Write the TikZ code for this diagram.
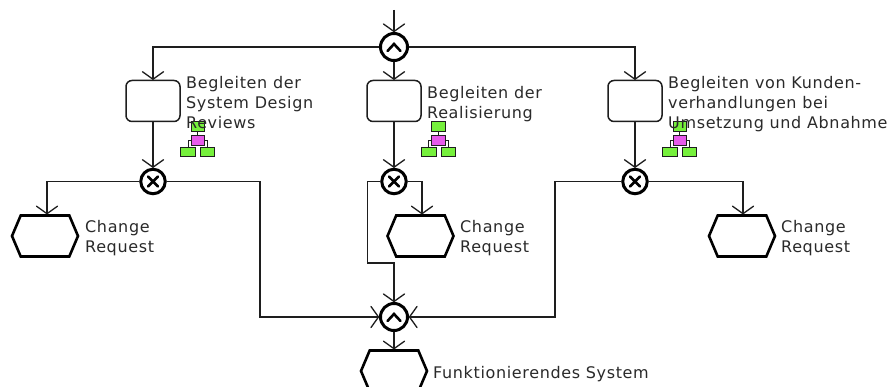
\documentclass[tikz,border=0pt]{standalone}
\usepackage{fontspec}
\setmainfont[LetterSpace=4]{DejaVu Sans}
\usetikzlibrary{arrows.meta,shapes.symbols,positioning}
\definecolor{ink}{HTML}{1E1E1E}
\definecolor{lbl}{HTML}{2A2A2A}
\definecolor{grn}{HTML}{76F03C}
\definecolor{mag}{HTML}{E65AEB}
\pgfdeclarearrow{
  name=VBarb,
  setup code={\pgfarrowssettipend{0pt}\pgfarrowssetlineend{-0.5pt}\pgfarrowssetbackend{-8pt}\pgfarrowssetvisualbackend{-0.5pt}},
  drawing code={\pgfsetdash{}{0pt}\pgfsetlinewidth{1.3pt}\pgfsetroundcap\pgfsetmiterjoin
    \pgfpathmoveto{\pgfqpoint{-8pt}{10.5pt}}\pgfpathlineto{\pgfqpoint{-0.5pt}{0pt}}\pgfpathlineto{\pgfqpoint{-8pt}{-10.5pt}}\pgfusepathqstroke}
}
\tikzset{
  flow/.style={draw=ink,line width=1.4pt,-{VBarb}},
  taskbox/.style={draw=ink,line width=1.5pt,rounded corners=6pt,minimum width=54pt,minimum height=41pt,inner sep=0pt,fill=white},
  evt/.style={draw=black,line width=2.6pt,signal,signal to=east and west,signal pointer angle=134,minimum width=66pt,minimum height=41pt,inner sep=0pt,fill=white},
  gate/.style={circle,draw=black,line width=3pt,inner sep=0pt,fill=white},
  xorgate/.style={gate,minimum size=24.5pt,path picture={\draw[line width=2.6pt,line cap=round,black]
     ([shift={(-5pt,-5pt)}]path picture bounding box.center) -- ([shift={(5pt,5pt)}]path picture bounding box.center)
     ([shift={(-5pt,5pt)}]path picture bounding box.center) -- ([shift={(5pt,-5pt)}]path picture bounding box.center);}},
  andgate/.style={gate,minimum size=27pt,path picture={\draw[line width=2.6pt,line cap=round,black]
     ([shift={(-6.5pt,-4pt)}]path picture bounding box.center) -- ([shift={(0pt,3pt)}]path picture bounding box.center) -- ([shift={(6.5pt,-4pt)}]path picture bounding box.center);}},
  lab/.style={text=lbl,align=left,anchor=north west,inner sep=0pt,font=\fontsize{16pt}{20pt}\selectfont},
  icg/.style={draw=ink,line width=.9pt,fill=grn,inner sep=0pt},
  icm/.style={draw=ink,line width=.9pt,fill=mag,inner sep=0pt},
  icl/.style={draw=ink,line width=.9pt},
  pics/subproc/.style={code={
    \node[icg,minimum width=13.5pt,minimum height=9.5pt,anchor=north west] (-t) at (10.5,-.5) {};
    \node[icm,minimum width=13.5pt,minimum height=10pt,anchor=north west] (-m) at (10.5,13) {};
    \node[icg,minimum width=15pt,minimum height=9.5pt,anchor=north west] (-l) at (0,25) {};
    \node[icg,minimum width=14pt,minimum height=9.5pt,anchor=north west] (-r) at (20,25) {};
    \draw[icl] (-t) -- (-m);
    \draw[icl] (-m.west) -| (-l.north);
    \draw[icl] (-m.east) -| (-r.north);
  }}
}
\begin{document}
\begin{tikzpicture}[x=1pt,y=-1pt]
\useasboundingbox (0,0) rectangle (891,387);
\clip (0,0) rectangle (891,387);
\fill[white] (0,0) rectangle (891,387);
\coordinate (top) at (394,10);
% gateways
\node[andgate] (g0) at (394,47) {};
\node[xorgate] (x1) at (153,181.5) {};
\node[xorgate] (x2) at (394,181.5) {};
\node[xorgate] (x3) at (635,181.5) {};
\node[andgate] (g1) at (394,317) {};
% tasks
\node[taskbox] (t1) at (153,101) {};
\node[taskbox] (t2) at (394,101) {};
\node[taskbox] (t3) at (635,101) {};
% events
\node[evt] (e1) at (45,236) {};
\node[evt] (e2) at (420.5,236) {};
\node[evt] (e3) at (742,236) {};
\node[evt] (e4) at (394,371) {};
% icons
\pic (i1) at (180,122) {subproc};
\pic (i2) at (420.5,122) {subproc};
\pic (i3) at (662,122) {subproc};
% connectors
\draw[flow] (top) -- (g0.north);
\draw[flow] (g0.west) -| (t1.north);
\draw[flow] (g0.south) -- (t2.north);
\draw[flow] (g0.east) -| (t3.north);
\draw[flow] (t1.south) -- (x1.north);
\draw[flow] (t2.south) -- (x2.north);
\draw[flow] (t3.south) -- (x3.north);
\draw[flow] (x1.west) -| ([xshift=2pt]e1.north);
\draw[flow] (x2.east) -| ([xshift=1.5pt]e2.north);
\draw[flow] (x3.east) -| ([xshift=1pt]e3.north);
\coordinate (r1) at (260,181.5);
\coordinate (r2) at (555,181.5);
\coordinate (b2) at (367.5,181.5);
\coordinate (b3) at (367.5,263);
\coordinate (b4) at (394,263);
\draw[flow] (x1.east) -- (r1) |- (g1.west);
\draw[flow] (x3.west) -- (r2) |- (g1.east);
\draw[flow] (x2.west) -- (b2) -- (b3) -- (b4) -- (g1.north);
\draw[flow] (g1.south) -- (e4.north);
% labels
\node[lab] at (186,76) {Begleiten der\\System Design\\Reviews};
\node[lab] at (427,86) {Begleiten der\\Realisierung};
\node[lab] at (668,76) {Begleiten von Kunden-\\verhandlungen bei\\Umsetzung und Abnahme};
\node[lab] at (85,220) {Change\\Request};
\node[lab] at (460,220) {Change\\Request};
\node[lab] at (781,220) {Change\\Request};
\node[lab] at (433,366) {Funktionierendes System};
\end{tikzpicture}
\end{document}
